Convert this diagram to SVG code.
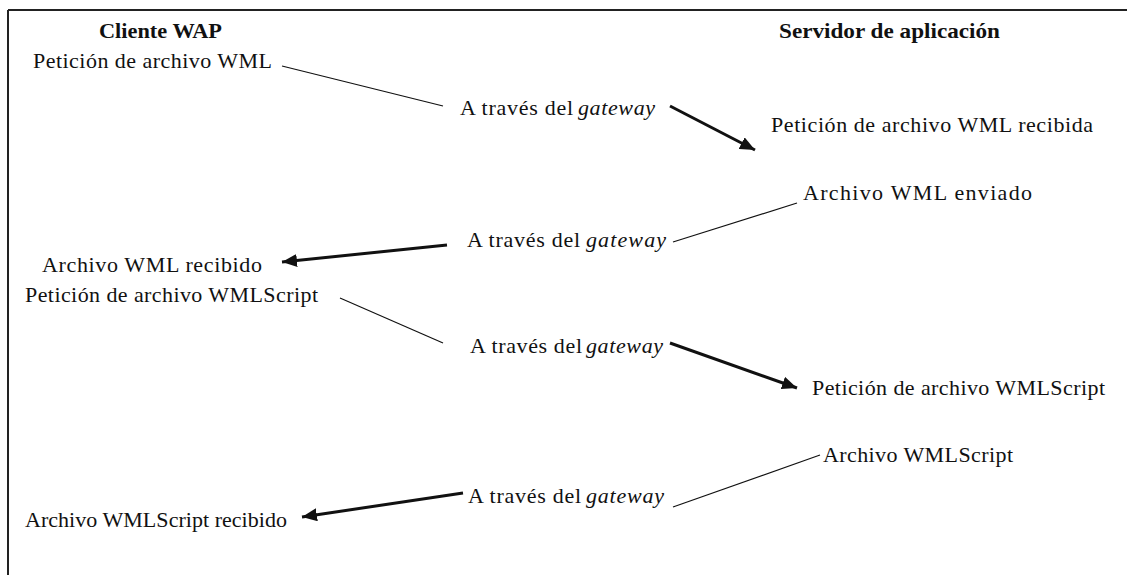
<svg xmlns="http://www.w3.org/2000/svg" width="1127" height="575" viewBox="0 0 1127 575">
  <style>
    .t { font-family: "Liberation Serif", "Times New Roman", serif; font-size: 22px; fill: #111; }
    .h { font-weight: bold; font-size: 21px; }
    .i { font-style: italic; }
    .thin { stroke: #111; stroke-width: 1.2; fill: none; }
    .thick { stroke: #111; stroke-width: 3; fill: none; marker-end: url(#head); }
  </style>
  <defs>
    <marker id="head" viewBox="0 0 15 13" refX="15" refY="6.5" markerWidth="15" markerHeight="13" markerUnits="userSpaceOnUse" orient="auto">
      <path d="M0,0 L15,6.5 L0,13 Z" fill="#111"/>
    </marker>
  </defs>
  <rect width="1127" height="575" fill="#fff"/>
  <!-- frame: top and left rules -->
  <g id="frame" stroke="#222" stroke-width="2" fill="none">
    <line x1="8" y1="10" x2="1127" y2="10"/>
    <line x1="8" y1="10" x2="8" y2="575"/>
  </g>

  <g id="col-client"><text class="t h" x="99" y="38" textLength="123" lengthAdjust="spacingAndGlyphs">Cliente WAP</text></g>
  <g id="col-server"><text class="t h" x="779" y="38" textLength="221" lengthAdjust="spacingAndGlyphs">Servidor de aplicación</text></g>

  <g id="req-wml"><text class="t" x="33" y="68" textLength="239">Petición de archivo WML</text></g>
  <g id="gw1"><text class="t" x="460" y="115" textLength="113">A través del</text><text class="t i" x="578" y="115" textLength="77">gateway</text></g>
  <g id="req-wml-recv"><text class="t" x="771" y="132" textLength="322">Petición de archivo WML recibida</text></g>

  <g id="wml-sent"><text class="t" x="803" y="200" textLength="229">Archivo WML enviado</text></g>
  <g id="gw2"><text class="t" x="467" y="247" textLength="113">A través del</text><text class="t i" x="586" y="247" textLength="80">gateway</text></g>
  <g id="wml-recv"><text class="t" x="42" y="272" textLength="220">Archivo WML recibido</text></g>

  <g id="req-script"><text class="t" x="25" y="302" textLength="293">Petición de archivo WMLScript</text></g>
  <g id="gw3"><text class="t" x="470" y="353" textLength="112">A través del</text><text class="t i" x="586" y="353" textLength="77">gateway</text></g>
  <g id="req-script-recv"><text class="t" x="812" y="395" textLength="293">Petición de archivo WMLScript</text></g>

  <g id="script-sent"><text class="t" x="823" y="462" textLength="190">Archivo WMLScript</text></g>
  <g id="gw4"><text class="t" x="468" y="503" textLength="113">A través del</text><text class="t i" x="586" y="503" textLength="78">gateway</text></g>
  <g id="script-recv"><text class="t" x="25" y="527" textLength="262">Archivo WMLScript recibido</text></g>

  <g id="connectors">
    <line class="thin" x1="282" y1="66" x2="443" y2="106"/>
    <line class="thick" x1="670" y1="106" x2="755" y2="150"/>
    <line class="thin" x1="797" y1="203" x2="673" y2="242"/>
    <line class="thick" x1="447" y1="245" x2="282" y2="262"/>
    <line class="thin" x1="340" y1="298" x2="443" y2="343"/>
    <line class="thick" x1="670" y1="343" x2="797" y2="388"/>
    <line class="thin" x1="820" y1="455" x2="673" y2="507"/>
    <line class="thick" x1="463" y1="493" x2="302" y2="517"/>
  </g>
</svg>
